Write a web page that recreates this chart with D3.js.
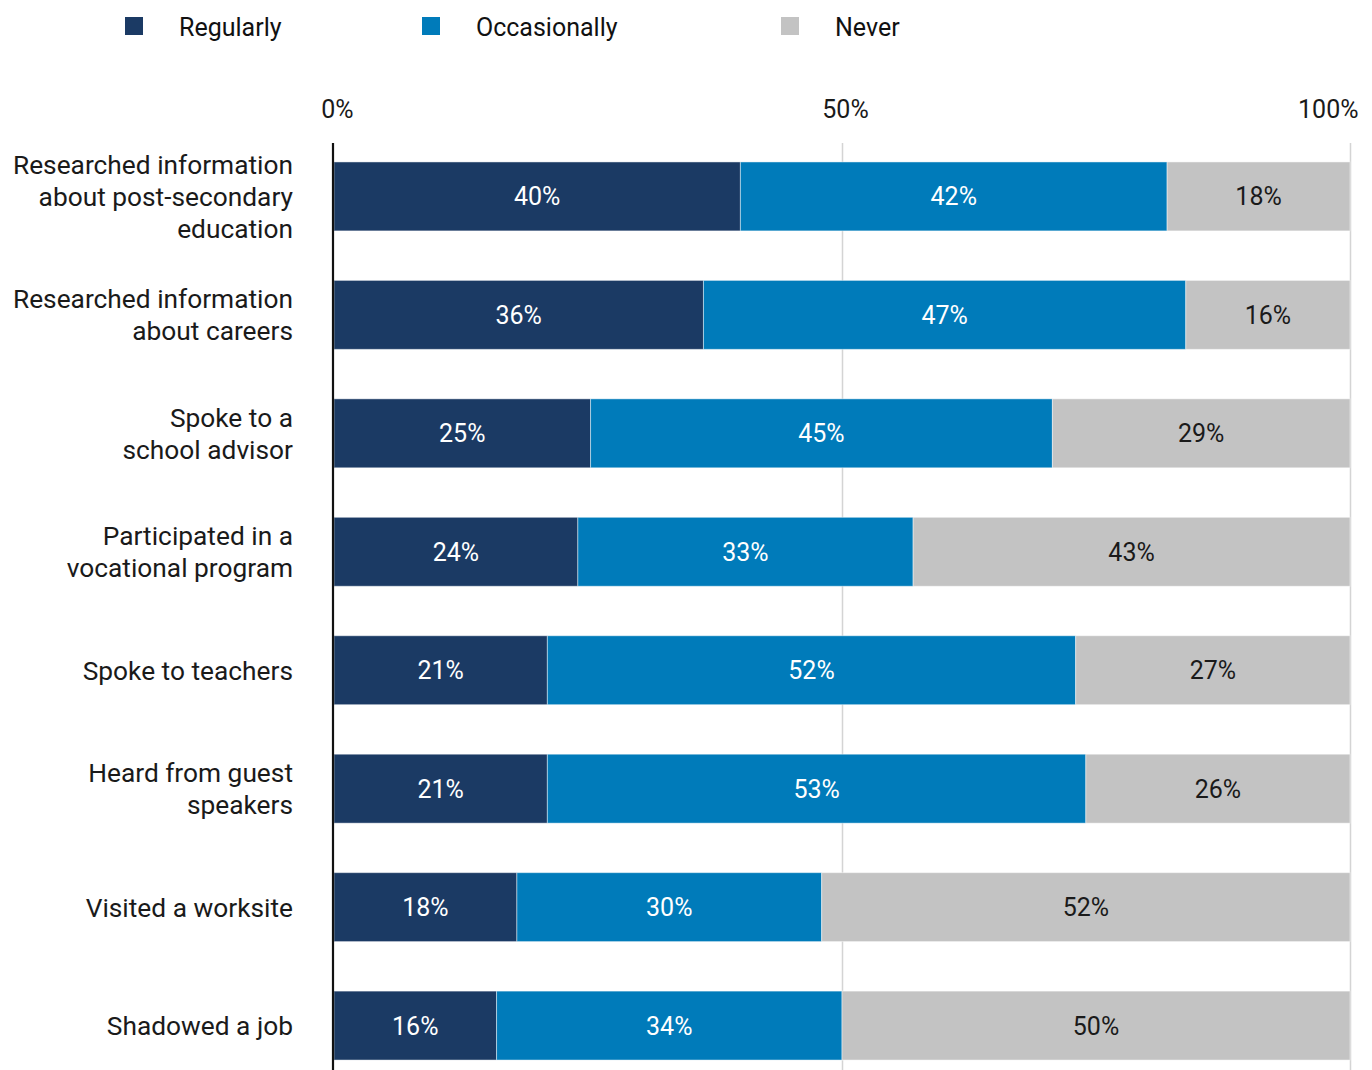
<!DOCTYPE html>
<html>
<head>
<meta charset="utf-8">
<script src="https://cdn.jsdelivr.net/npm/d3@7"></script>
<style>
  html, body { margin: 0; padding: 0; background: #fff; }
  svg { display: block; font-family: Roboto, "Noto Sans", sans-serif; }
</style>
</head>
<body>
<svg id="chart" width="1372" height="1070"></svg>
<script>
// Activities (one bar each), in display order
const categories = [
  ["Researched information", "about post-secondary", "education"],
  ["Researched information", "about careers"],
  ["Spoke to a", "school advisor"],
  ["Participated in a", "vocational program"],
  ["Spoke to teachers"],
  ["Heard from guest", "speakers"],
  ["Visited a worksite"],
  ["Shadowed a job"]
];
const seriesNames = ["Regularly", "Occasionally", "Never"];
// Percent of respondents per activity
const regularly    = [40, 36, 25, 24, 21, 21, 18, 16];
const occasionally = [42, 47, 45, 33, 52, 53, 30, 34];
const never        = [18, 16, 29, 43, 27, 26, 52, 50];
const tickLabels = ["0%", "50%", "100%"];
const tickValues = [0, 0.5, 1];

const colors = { Regularly: "#1b3a64", Occasionally: "#007bba", Never: "#c3c3c3" };
const labelColors = { Regularly: "#ffffff", Occasionally: "#ffffff", Never: "#1a1a1a" };

const rows = categories.map((c, i) => ({
  key: i,
  lines: c,
  Regularly: regularly[i],
  Occasionally: occasionally[i],
  Never: never[i]
}));

const svg = d3.select("#chart");

const x = d3.scaleLinear().domain([0, 1]).range([334, 1350]);
const y = d3.scaleBand()
  .domain(rows.map(d => d.key))
  .range([143, 1079])
  .paddingInner(0.418)
  .paddingOuter(0.16);

// Each row is normalised to a full 100% bar
const stacked = d3.stack()
  .keys(seriesNames)
  .offset(d3.stackOffsetExpand)(rows);

// Gridlines at 50% and 100%
svg.append("g")
  .selectAll("line")
  .data(tickValues.slice(1))
  .join("line")
  .attr("x1", d => Math.round(x(d)) + 0.5)
  .attr("x2", d => Math.round(x(d)) + 0.5)
  .attr("y1", 143)
  .attr("y2", 1070)
  .attr("stroke", "#d4d4d4")
  .attr("stroke-width", 1.5);

// Top axis tick labels
const xAxis = d3.axisTop(x)
  .tickValues(tickValues)
  .tickFormat((d, i) => tickLabels[i])
  .tickSize(0)
  .tickPadding(0);
const axisG = svg.append("g")
  .attr("transform", "translate(0,118)")
  .call(xAxis);
axisG.select(".domain").remove();
axisG.selectAll("text")
  .attr("font-size", 25)
  .attr("fill", "#1a1a1a")
  .attr("font-family", "Roboto, sans-serif")
  .attr("text-anchor", (d, i) => i === tickValues.length - 1 ? "end" : "middle")
  .attr("dx", (d, i) => i === tickValues.length - 1 ? 8 : 3);

// Stacked bar segments
const layers = svg.append("g")
  .selectAll("g")
  .data(stacked)
  .join("g")
  .attr("fill", d => colors[d.key]);

layers.selectAll("rect")
  .data(d => d.map(v => Object.assign(v, { series: d.key })))
  .join("rect")
  .attr("x", d => x(d[0]))
  .attr("y", d => y(d.data.key))
  .attr("width", d => x(d[1]) - x(d[0]))
  .attr("height", y.bandwidth())
  .attr("stroke", "rgba(255,255,255,0.45)")
  .attr("stroke-width", 1);

// Value labels inside segments
layers.selectAll("text")
  .data(d => d)
  .join("text")
  .attr("x", d => (x(d[0]) + x(d[1])) / 2)
  .attr("y", d => y(d.data.key) + y.bandwidth() / 2)
  .attr("dy", "0.36em")
  .attr("text-anchor", "middle")
  .attr("font-size", 25)
  .attr("fill", d => labelColors[d.series])
  .text(d => d.data[d.series] + "%");

// Left baseline
svg.append("line")
  .attr("x1", 333).attr("x2", 333)
  .attr("y1", 143).attr("y2", 1070)
  .attr("stroke", "#111")
  .attr("stroke-width", 2.2);

// Category labels, right aligned, multi-line
const lineH = 32;
const catG = svg.append("g")
  .selectAll("text")
  .data(rows)
  .join("text")
  .attr("text-anchor", "end")
  .attr("font-size", 26.3)
  .attr("fill", "#1a1a1a")
  .attr("transform", d => {
    const cy = y(d.key) + y.bandwidth() / 2 - (d.lines.length - 1) * lineH / 2;
    return `translate(293,${cy})`;
  });
catG.selectAll("tspan")
  .data(d => d.lines)
  .join("tspan")
  .attr("x", 0)
  .attr("y", (d, i) => i * lineH)
  .attr("dy", "0.36em")
  .text(d => d);

// Legend
const legendX = [125, 422, 781];
const legend = svg.append("g")
  .selectAll("g")
  .data(seriesNames)
  .join("g")
  .attr("transform", (d, i) => `translate(${legendX[i]},17)`);
legend.append("rect")
  .attr("width", 18)
  .attr("height", 18)
  .attr("fill", d => colors[d]);
legend.append("text")
  .attr("x", 54)
  .attr("y", 10)
  .attr("dy", "0.36em")
  .attr("font-size", 25)
  .attr("fill", "#111")
  .text(d => d);
</script>
</body>
</html>
